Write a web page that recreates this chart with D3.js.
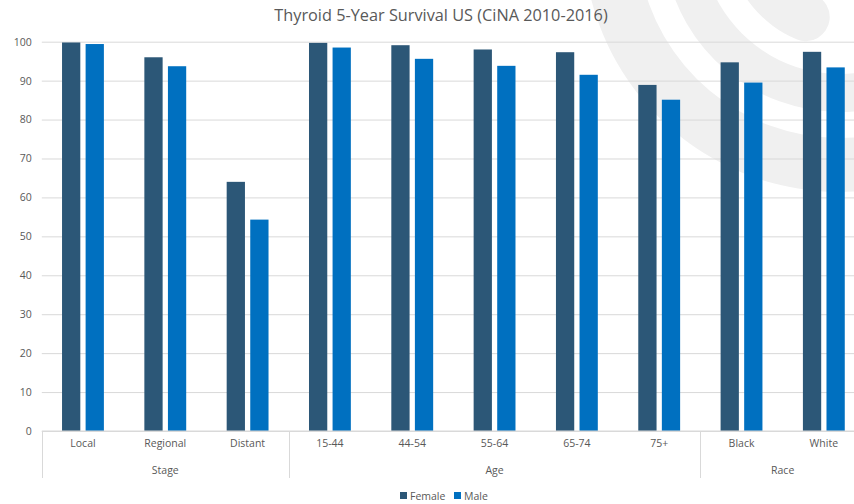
<!DOCTYPE html>
<html>
<head>
<meta charset="utf-8">
<script src="https://cdn.jsdelivr.net/npm/d3@7"></script>
<style>
  html, body { margin: 0; padding: 0; background: #ffffff; }
  svg { display: block; font-family: "Open Sans", "Noto Sans", sans-serif; }
</style>
</head>
<body>
<svg id="chart" width="854" height="504"></svg>
<script>
// ---- data ----
const categories = ["Local", "Regional", "Distant", "15-44", "44-54", "55-64", "65-74", "75+", "Black", "White"];
const groups = ["Stage", "Age", "Race"];
const groupOfCategory = ["Stage", "Stage", "Stage", "Age", "Age", "Age", "Age", "Age", "Race", "Race"];
const seriesNames = ["Female", "Male"];
const femaleValues = [99.8, 96.0, 64.0, 99.7, 99.1, 98.0, 97.3, 88.9, 94.7, 97.4];
const maleValues   = [99.4, 93.7, 54.3, 98.5, 95.6, 93.8, 91.5, 85.1, 89.5, 93.4];
const yTicks = [0, 10, 20, 30, 40, 50, 60, 70, 80, 90, 100];
const titleText = "Thyroid 5-Year Survival US (CiNA 2010-2016)";

const colors = { Female: "#2C5777", Male: "#0070C0" };
const textColor = "#595959";
const gridColor = "#D9D9D9";

const svg = d3.select("#chart");
const plot = { left: 41.8, right: 865, top: 41.7, bottom: 431 };

// ---- watermark arcs ----
const wm = svg.append("g").attr("transform", "translate(840,-65)");
const deg = Math.PI / 180;
const wmBands = [
  { inner: 203, outer: 257, start: 90, end: 330, corner: 0 },
  { inner: 139, outer: 177, start: 90, end: 330, corner: 0 },
  { inner: 65,  outer: 113, start: 187, end: 330, corner: 24 }
];
wmBands.forEach(b => {
  wm.append("path")
    .attr("d", d3.arc()
      .innerRadius(b.inner).outerRadius(b.outer)
      .startAngle(b.start * deg).endAngle(b.end * deg)
      .cornerRadius(b.corner)())
    .attr("fill", "#F0F0F0");
});

// ---- scales ----
const x = d3.scaleBand().domain(categories).range([plot.left, plot.right]).paddingInner(0).paddingOuter(0);
const y = d3.scaleLinear().domain([0, 100]).range([plot.bottom, plot.top]);
const barW = x.bandwidth() * 0.222;
const gapW = barW * 0.29;
const xs = d3.scaleBand().domain(seriesNames)
  .range([-(barW + gapW / 2), barW + gapW / 2]).paddingInner(gapW / (barW + gapW)).paddingOuter(0);

// ---- gridlines + y axis ----
const yAxis = d3.axisLeft(y).tickValues(yTicks).tickSizeInner(-(plot.right - plot.left)).tickSizeOuter(0).tickPadding(10);
const gy = svg.append("g").attr("transform", `translate(${plot.left},0)`).call(yAxis);
gy.select(".domain").remove();
gy.selectAll(".tick line").attr("stroke", gridColor).attr("stroke-width", 1);
gy.selectAll(".tick text").attr("fill", textColor).attr("font-size", "10.5px")
  .attr("font-family", "'Open Sans', sans-serif");

// ---- bars ----
const rows = categories.map((c, i) => ({ cat: c, Female: femaleValues[i], Male: maleValues[i] }));
const gBars = svg.append("g");
seriesNames.forEach(s => {
  gBars.selectAll(null).data(rows).enter().append("rect")
    .attr("x", d => x(d.cat) + x.bandwidth() / 2 + xs(s))
    .attr("y", d => y(d[s]))
    .attr("width", xs.bandwidth())
    .attr("height", d => y(0) - y(d[s]))
    .attr("fill", colors[s]);
});

// ---- category axis ----
const xAxis = d3.axisBottom(x).tickSize(0).tickPadding(9);
const gx = svg.append("g").attr("transform", `translate(0,${plot.bottom})`).call(xAxis);
gx.select(".domain").remove();
gx.selectAll(".tick text").attr("fill", textColor).attr("font-size", "10.5px")
  .attr("font-family", "'Open Sans', sans-serif");

// baseline
svg.append("line")
  .attr("x1", plot.left).attr("x2", plot.right)
  .attr("y1", y(0)).attr("y2", y(0))
  .attr("stroke", gridColor).attr("stroke-width", 1);

// group separators & labels
const groupInfo = groups.map(g => {
  const cats = categories.filter((c, i) => groupOfCategory[i] === g);
  const x0 = x(cats[0]);
  const x1 = x(cats[cats.length - 1]) + x.bandwidth();
  return { g, x0, x1 };
});
const sepX = [groupInfo[0].x0].concat(groupInfo.map(d => d.x1));
svg.append("g").selectAll("line").data(sepX).enter().append("line")
  .attr("x1", d => Math.round(d) + 0.5).attr("x2", d => Math.round(d) + 0.5)
  .attr("y1", plot.bottom).attr("y2", 478)
  .attr("stroke", gridColor).attr("stroke-width", 1);
svg.append("g").selectAll("text").data(groupInfo).enter().append("text")
  .attr("x", d => (d.x0 + d.x1) / 2)
  .attr("y", 474)
  .attr("text-anchor", "middle")
  .attr("fill", textColor).attr("font-size", "10.5px")
  .text(d => d.g);

// ---- title ----
svg.append("text")
  .attr("x", 441).attr("y", 21)
  .attr("text-anchor", "middle")
  .attr("fill", textColor).attr("font-size", "16.3px")
  .text(titleText);

// ---- legend ----
const legend = svg.append("g");
const legendX = [400, 454];
seriesNames.forEach((s, i) => {
  legend.append("rect").attr("x", legendX[i]).attr("y", 492).attr("width", 7).attr("height", 7).attr("fill", colors[s]);
  legend.append("text").attr("x", legendX[i] + 10).attr("y", 499.5)
    .attr("fill", textColor).attr("font-size", "10.5px").text(s);
});
</script>
</body>
</html>
